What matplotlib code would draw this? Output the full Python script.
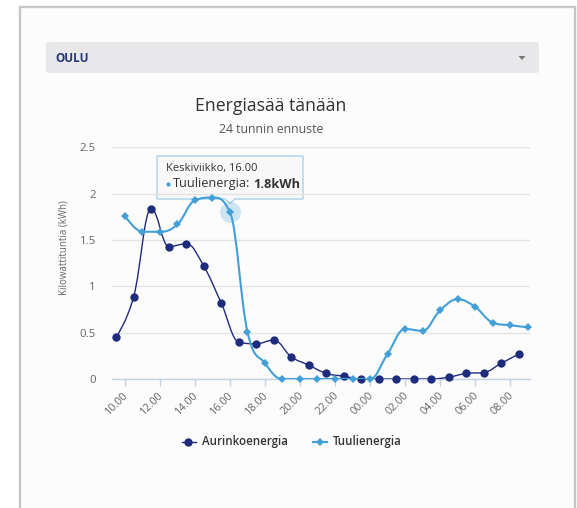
import numpy as np
import matplotlib
matplotlib.use("Agg")
import matplotlib.pyplot as plt
from matplotlib.path import Path
from matplotlib.patches import PathPatch, Rectangle, FancyBboxPatch, Polygon
from matplotlib.lines import Line2D
from matplotlib.transforms import ScaledTranslation

plt.rcParams["font.family"] = ["Open Sans", "DejaVu Sans"]

# ---- data -------------------------------------------------------------
city = "OULU"
chart_title = "Energiasää tänään"
chart_subtitle = "24 tunnin ennuste"
y_label = "Kilowattituntia (kWh)"

# hours counted from midnight of the first day (24 = 00.00 next day)
solar_hours = np.arange(9.5, 33.0, 1.0)
solar_kwh = [0.45, 0.89, 1.84, 1.43, 1.46, 1.22, 0.82, 0.40, 0.38, 0.42,
             0.24, 0.15, 0.06, 0.03, 0.0, 0.0, 0.0, 0.0, 0.0, 0.02,
             0.06, 0.07, 0.17, 0.27]

wind_hours = np.arange(10, 34, 1)
wind_kwh = [1.76, 1.59, 1.59, 1.67, 1.93, 1.96, 1.8, 0.51, 0.17, 0.0,
            0.0, 0.0, 0.0, 0.0, 0.0, 0.27, 0.54, 0.52, 0.74, 0.86,
            0.78, 0.61, 0.58, 0.56]

tick_hours = [10, 12, 14, 16, 18, 20, 22, 24, 26, 28, 30, 32]
tick_labels = ["10.00", "12.00", "14.00", "16.00", "18.00", "20.00",
               "22.00", "00.00", "02.00", "04.00", "06.00", "08.00"]
y_ticks = [0, 0.5, 1, 1.5, 2, 2.5]
y_tick_labels = ["0", "0.5", "1", "1.5", "2", "2.5"]

series_names = ["Aurinkoenergia", "Tuulienergia"]
solar_color = "#1f2c7e"
wind_color = "#429fd7"

hover_index = 6            # wind point shown in the tooltip
hover_day = "Keskiviikko"

# ---- helpers ----------------------------------------------------------
def spline_path(xs, ys, smoothing=1.5):
    """Smooth curve through the points, bezier controls kept between neighbours."""
    xs = list(map(float, xs)); ys = list(map(float, ys))
    n = len(xs)
    denom = smoothing + 1.0
    left = [None] * n
    right = [None] * n
    for i in range(1, n - 1):
        px, py = xs[i], ys[i]
        lx, ly = xs[i - 1], ys[i - 1]
        nx, ny = xs[i + 1], ys[i + 1]
        lcx = (smoothing * px + lx) / denom
        lcy = (smoothing * py + ly) / denom
        rcx = (smoothing * px + nx) / denom
        rcy = (smoothing * py + ny) / denom
        if rcx != lcx:
            corr = (rcy - lcy) * (rcx - px) / (rcx - lcx) + py - rcy
            lcy += corr
            rcy += corr
        if lcy > ly and lcy > py:
            lcy = max(ly, py); rcy = 2 * py - lcy
        elif lcy < ly and lcy < py:
            lcy = min(ly, py); rcy = 2 * py - lcy
        if rcy > ny and rcy > py:
            rcy = max(ny, py); lcy = 2 * py - rcy
        elif rcy < ny and rcy < py:
            rcy = min(ny, py); lcy = 2 * py - rcy
        left[i] = (lcx, lcy)
        right[i] = (rcx, rcy)
    verts = [(xs[0], ys[0])]
    codes = [Path.MOVETO]
    for i in range(1, n):
        c1 = right[i - 1] if right[i - 1] is not None else (xs[i - 1], ys[i - 1])
        c2 = left[i] if left[i] is not None else (xs[i], ys[i])
        verts += [c1, c2, (xs[i], ys[i])]
        codes += [Path.CURVE4] * 3
    return Path(verts, codes)


W, H = 577, 508
fig = plt.figure(figsize=(W / 100, H / 100), dpi=100)
fig.patch.set_facecolor("white")

# page layer in pixel coordinates
bg = fig.add_axes([0, 0, 1, 1])
bg.set_xlim(0, W)
bg.set_ylim(H, 0)
bg.axis("off")

bg.add_patch(Rectangle((20, 7), 555, 520, facecolor="#fcfcfc",
                       edgecolor="#c6c6c6", linewidth=1.7, zorder=0))
bg.add_patch(FancyBboxPatch((46, 42), 493, 31,
                            boxstyle="round,pad=0,rounding_size=3",
                            facecolor="#e8e8ea", edgecolor="none", zorder=1))
bg.text(55, 58, city, fontsize=8.5, fontweight="bold", color="#22357a",
        va="center", ha="left", zorder=2)
bg.add_patch(Polygon([(518.5, 56), (525.5, 56), (522, 60)], closed=True,
                     facecolor="#7a7a7a", edgecolor="none", zorder=2))

bg.text(271, 111, chart_title, fontsize=12.7, color="#333333",
        ha="center", va="baseline")
bg.text(271, 133, chart_subtitle, fontsize=8.8, color="#555555",
        ha="center", va="baseline")
bg.text(64, 248, y_label, fontsize=7.0, color="#666666", rotation=90,
        ha="center", va="center")

# ---- plot area --------------------------------------------------------
left_px, right_px, top_px, bottom_px = 112, 530, 147.5, 379
ax = fig.add_axes([left_px / W, 1 - bottom_px / H,
                   (right_px - left_px) / W, (bottom_px - top_px) / H])
ax.set_facecolor("none")
ax.set_xlim(9.26, 33.14)
ax.set_ylim(0, 2.5)
for side in ("top", "right", "left"):
    ax.spines[side].set_visible(False)
ax.spines["bottom"].set_color("#c2d3e6")
ax.spines["bottom"].set_linewidth(1.0)
ax.spines["bottom"].set_zorder(1)

ax.set_yticks(y_ticks)
ax.set_yticklabels(y_tick_labels)
ax.tick_params(axis="y", length=0, pad=11.5, labelsize=8.2, labelcolor="#666666")
ax.yaxis.grid(True, color="#e3e3e3", linewidth=1.0)
ax.set_axisbelow(True)

ax.set_xticks(tick_hours)
ax.set_xticklabels(tick_labels, rotation=45, ha="right", va="top",
                   rotation_mode="anchor")
ax.tick_params(axis="x", length=5, width=1, color="#c2d3e6", pad=3,
               labelsize=7.8, labelcolor="#666666")
shift = ScaledTranslation(-2 / 100, 0, fig.dpi_scale_trans)
for lab in ax.get_xticklabels():
    lab.set_transform(lab.get_transform() + shift)

# solar series
ax.add_patch(PathPatch(spline_path(solar_hours, solar_kwh), facecolor="none",
                       edgecolor=solar_color, linewidth=1.0, zorder=3))
ax.plot(solar_hours, solar_kwh, linestyle="none", marker="o", markersize=6.0,
        color=solar_color, markeredgewidth=0, zorder=4, clip_on=False)

# wind series
ax.plot(wind_hours[hover_index], wind_kwh[hover_index], marker="o",
        markersize=15, color=wind_color, alpha=0.25, markeredgewidth=0,
        zorder=5)
ax.add_patch(PathPatch(spline_path(wind_hours, wind_kwh), facecolor="none",
                       edgecolor=wind_color, linewidth=1.5, zorder=5))
ax.plot(wind_hours, wind_kwh, linestyle="none", marker="D", markersize=4.2,
        color=wind_color, markeredgewidth=0, zorder=6, clip_on=False)

# ---- tooltip ----------------------------------------------------------
tx, ty = ax.transData.transform((wind_hours[hover_index], wind_kwh[hover_index]))
tip_x = tx
tip_y = H - ty - 9
bx0, bx1, by0, by1 = 157, 303, 156, 199
tip_shape = [(bx0, by0), (bx1, by0), (bx1, by1), (tip_x + 5, by1),
             (tip_x, tip_y), (tip_x - 5, by1), (bx0, by1), (bx0, by0)]
bg.add_patch(Polygon(tip_shape, closed=True, facecolor="#f8f8f8",
                     edgecolor="#9ccbea", linewidth=0.9, alpha=0.95, zorder=10))
bg.text(166, 169, f"{hover_day}, {tick_labels[3]}", fontsize=8.0,
        color="#333333", va="center", ha="left", zorder=11)

renderer = fig.canvas.get_renderer()
inv = bg.transData.inverted()
bg.add_line(Line2D([168], [184], marker="o", markersize=3.0, color=wind_color,
                   markeredgewidth=0, zorder=11))
part1 = bg.text(172.5, 184, f"{series_names[1]}:", fontsize=9.2,
                color="#333333", va="center", ha="left", zorder=11)
x_end = inv.transform((part1.get_window_extent(renderer).x1, 0))[0]
bg.text(x_end + 3.5, 184, f"{wind_kwh[hover_index]}kWh",
        fontsize=9.2, fontweight="bold", color="#333333", va="center",
        ha="left", zorder=11)

# ---- legend -----------------------------------------------------------
ly = 442
bg.add_line(Line2D([182, 196], [ly, ly], color=solar_color, linewidth=1.0))
bg.add_line(Line2D([188], [ly], marker="o", markersize=6.0, color=solar_color,
                   markeredgewidth=0))
bg.text(202, ly, series_names[0], fontsize=8.3, fontweight="semibold",
        color="#333333", va="center", ha="left")
bg.add_line(Line2D([313, 327], [ly, ly], color=wind_color, linewidth=1.5))
bg.add_line(Line2D([320], [ly], marker="D", markersize=4.2, color=wind_color,
                   markeredgewidth=0))
bg.text(333, ly, series_names[1], fontsize=8.3, fontweight="semibold",
        color="#333333", va="center", ha="left")

fig.savefig("out.png", dpi=100, facecolor="white")
